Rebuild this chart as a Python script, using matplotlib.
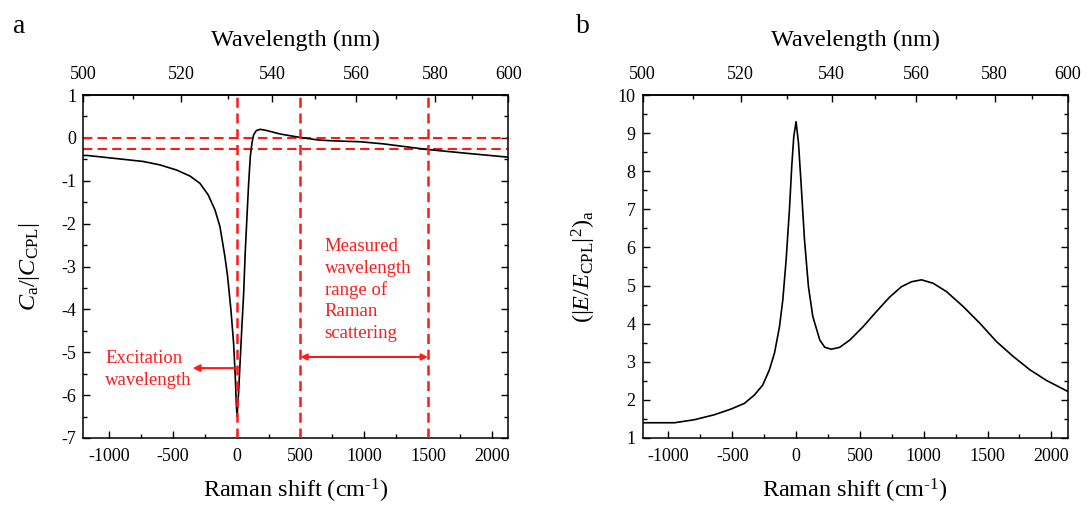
import numpy as np
import matplotlib
matplotlib.use('Agg')
import matplotlib.pyplot as plt
from matplotlib.ticker import MultipleLocator

plt.rcParams['font.family'] = ['Liberation Serif', 'DejaVu Serif']
plt.rcParams['mathtext.fontset'] = 'custom'
plt.rcParams['mathtext.rm'] = 'Liberation Serif'
plt.rcParams['mathtext.it'] = 'Liberation Serif:italic'
plt.rcParams['axes.unicode_minus'] = False

LAMBDA_EXC = 532.0

# panel a: C_a / |C_CPL|
shift_a = [-1200, -1172, -1046, -889, -733, -602, -471, -366, -288, -223,
           -170, -131, -92, -71, -45, -24, -11, -3, 3, 15, 28, 41, 55, 67, 81,
           94, 107, 120, 133, 154, 185, 238, 342, 499, 643, 760, 969, 1152,
           1493, 1806, 2130]
ratio_a = [-0.41, -0.41, -0.45, -0.50, -0.55, -0.63, -0.75, -0.89, -1.06,
           -1.33, -1.68, -2.07, -2.77, -3.23, -4.01, -4.79, -5.56, -6.18, -6.5,
           -5.95, -5.17, -4.40, -3.62, -2.69, -1.83, -1.06, -0.44, -0.12, 0.07,
           0.17, 0.20, 0.17, 0.09, 0.01, -0.05, -0.07, -0.09, -0.14, -0.27,
           -0.36, -0.45]
hlines_a = [0.0, -0.27]
vlines_a = [0, 500, 1500]

# panel b: (|E/E_CPL|^2)_a
shift_b = [-1200, -1188, -953, -796, -640, -509, -404, -326, -261, -209, -169,
           -130, -104, -78, -52, -34, -18, 0, 19, 39, 66, 97, 131, 186, 225,
           277, 342, 421, 525, 630, 734, 826, 904, 983, 1074, 1179, 1309, 1440,
           1570, 1701, 1832, 1962, 2130]
field_b = [1.40, 1.40, 1.40, 1.48, 1.61, 1.76, 1.91, 2.13, 2.39, 2.79, 3.23,
           3.92, 4.62, 5.67, 6.99, 8.12, 8.91, 9.30, 8.74, 7.69, 6.20, 4.97,
           4.19, 3.57, 3.38, 3.33, 3.38, 3.57, 3.92, 4.32, 4.70, 4.97, 5.10,
           5.15, 5.06, 4.84, 4.45, 4.01, 3.53, 3.14, 2.79, 2.51, 2.22]

wl_ticks = [500, 520, 540, 560, 580, 600]


def to_wl(s):
    s = np.asarray(s, dtype=float)
    return 1e7 / (1e7 / LAMBDA_EXC - s)


def to_shift(wl):
    wl = np.asarray(wl, dtype=float)
    with np.errstate(divide='ignore'):
        return 1e7 / LAMBDA_EXC - 1e7 / wl


def style_axes(ax):
    xmin, xmax = float(to_shift(500)), float(to_shift(600))
    ax.set_xlim(xmin, xmax)
    ax.xaxis.set_major_locator(MultipleLocator(500))
    ax.xaxis.set_minor_locator(MultipleLocator(250))
    ax.yaxis.set_major_locator(MultipleLocator(1))
    ax.yaxis.set_minor_locator(MultipleLocator(0.5))
    ax.tick_params(which='both', direction='in', right=True, top=False,
                   labelsize=13, width=1.0)
    ax.tick_params(axis='x', which='major', pad=7)
    ax.tick_params(axis='y', which='major', pad=5)
    ax.tick_params(which='major', length=5)
    ax.tick_params(which='minor', length=3)
    for sp in ax.spines.values():
        sp.set_linewidth(1.1)
    ax.set_xlabel(r'Raman shift (cm$^{\text{-1}}$)', fontsize=17.5,
                  labelpad=9)

    sec = ax.secondary_xaxis('top', functions=(to_wl, to_shift))
    sec.set_xticks(wl_ticks)
    sec.xaxis.set_minor_locator(MultipleLocator(10))
    sec.tick_params(which='both', direction='in', labelsize=13, width=1.0)
    sec.tick_params(which='major', length=5, pad=9)
    sec.tick_params(which='minor', length=3)
    sec.spines['top'].set_linewidth(1.1)
    sec.set_xlabel('Wavelength (nm)', fontsize=17.5, labelpad=14)
    return sec


fig = plt.figure(figsize=(10.87, 5.07), dpi=100)
ax1 = fig.add_axes([0.0766, 0.1361, 0.3910, 0.6765])
ax2 = fig.add_axes([0.5911, 0.1361, 0.3914, 0.6765])

# panel a
red = '#ff1a1a'
ax1.plot(shift_a, ratio_a, color='black', lw=1.2, zorder=3)
for y in hlines_a:
    ax1.axhline(y, color=red, lw=1.5, dashes=(4.5, 2.5), zorder=2)
for x in vlines_a:
    ax1.axvline(x, color=red, lw=1.8, dashes=(4, 2.3), zorder=4)
style_axes(ax1)
ax1.set_ylim(-7, 1)
ax1.set_ylabel(r'$C_{\rm a}/|C_{\rm CPL}|$', fontsize=17.5, labelpad=14)

ax1.annotate('', xy=(-345, -5.37), xytext=(0, -5.37),
             arrowprops=dict(arrowstyle='-|>', color=red, lw=1.5,
                             mutation_scale=10, shrinkA=0, shrinkB=0))
ax1.text(-1030, -5.4, 'Excitation\nwavelength', color=red, fontsize=13.5,
         ha='left', va='center', linespacing=1.35)
ax1.annotate('', xy=(500, -5.11), xytext=(1500, -5.11),
             arrowprops=dict(arrowstyle='<|-|>', color=red, lw=1.5,
                             mutation_scale=9, shrinkA=0, shrinkB=0))
ax1.text(690, -3.55, 'Measured\nwavelength\nrange of\nRaman\nscattering',
         color=red, fontsize=13.5, ha='left', va='center', linespacing=1.33)

# panel b
ax2.plot(shift_b, field_b, color='black', lw=1.2)
style_axes(ax2)
ax2.set_ylim(1, 10)
ax2.set_ylabel(r'$(|E/E_{\rm CPL}|^2)_{\rm a}$', fontsize=17.5, labelpad=14)

fig.text(0.012, 0.935, 'a', fontsize=20)
fig.text(0.530, 0.935, 'b', fontsize=20)

fig.savefig('out.png', dpi=100)
